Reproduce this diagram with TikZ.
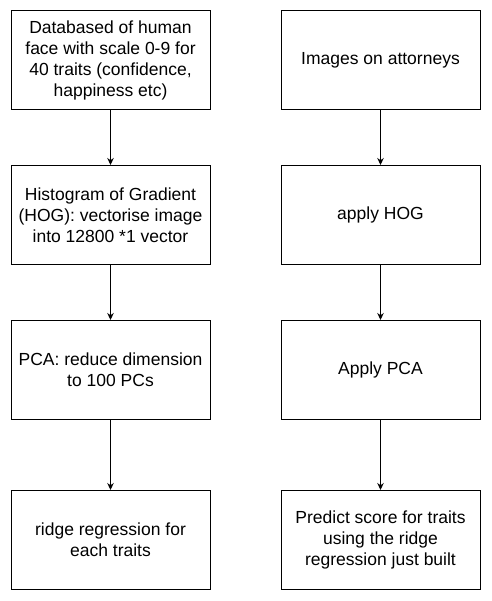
\documentclass[tikz,border=0pt]{standalone}
\usepackage{fontspec}
\setmainfont{Liberation Sans}
\usetikzlibrary{positioning, arrows.meta}
\tikzset{
  >={Stealth[length=7pt, width=6.5pt]},
  every node/.style={font=\fontsize{17.5}{21}\selectfont},
  box/.style={draw, line width=1pt, minimum width=199pt, minimum height=99pt, align=center, inner sep=0pt},
  flow/.style={->, line width=1pt},
}

\begin{document}
\begin{tikzpicture}
        \useasboundingbox (0,0) rectangle (491pt,-601pt);

        % training steps
        \node[box] (db) at (110.5pt,-60pt) {Databased of human\\face with scale 0-9 for\\40 traits (confidence,\\happiness etc)};
        \node[box, below=55pt of db] (hog) {Histogram of Gradient\\(HOG): vectorise image\\into 12800 *1 vector};
        \node[box, below=55pt of hog] (pca) {PCA: reduce dimension\\to 100 PCs};
        \node[box, below=70pt of pca] (ridge) {ridge regression for\\each traits};

        % prediction steps
        \node[box, right=70pt of db] (imgs) {Images on attorneys};
        \node[box, right=70pt of hog] (applyhog) {apply HOG};
        \node[box, right=70pt of pca] (applypca) {Apply PCA};
        \node[box, right=70pt of ridge] (predict) {Predict score for traits\\using the ridge\\regression just built};

        % arrows
        \draw[flow] (db) -- (hog);
        \draw[flow] (hog) -- (pca);
        \draw[flow] (pca) -- (ridge);
        \draw[flow] (imgs) -- (applyhog);
        \draw[flow] (applyhog) -- (applypca);
        \draw[flow] (applypca) -- (predict);
\end{tikzpicture}
\end{document}
